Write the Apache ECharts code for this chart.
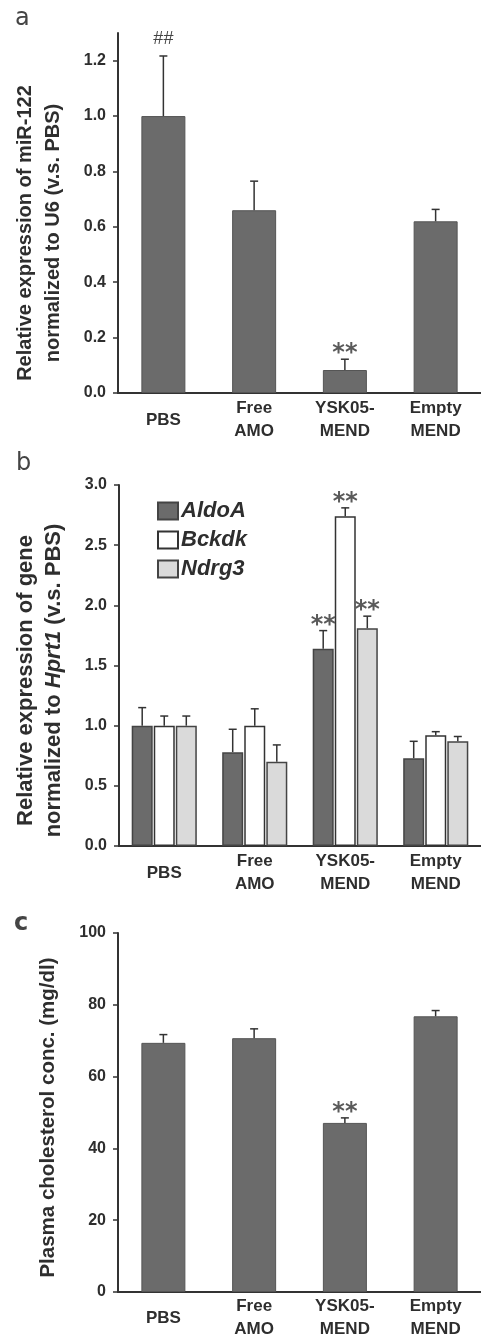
<!DOCTYPE html>
<html>
<head>
<meta charset="utf-8">
<script src="https://cdn.jsdelivr.net/npm/echarts@6/dist/echarts.min.js"></script>
<style>
  html, body { margin: 0; padding: 0; background: #fff; }
  #chart { width: 481px; height: 1341px; }
</style>
</head>
<body>
<div id="chart"></div>
<script>
// categories shared by all three panels
const groups = ["PBS", "Free\nAMO", "YSK05-\nMEND", "Empty\nMEND"];

// panel a: miR-122
const mirMean = [1.0, 0.66, 0.083, 0.62];
const mirSem = [0.217, 0.105, 0.039, 0.043];
const mirMark = ["##", "", "**", ""];
const ticksA = [0, 0.2, 0.4, 0.6, 0.8, 1.0, 1.2];

// panel b: gene expression
const genes = ["AldoA", "Bckdk", "Ndrg3"];
const aldoA = [1.0, 0.78, 1.64, 0.73];
const aldoASem = [0.15, 0.19, 0.15, 0.14];
const bckdk = [1.0, 1.0, 2.74, 0.92];
const bckdkSem = [0.08, 0.14, 0.07, 0.03];
const ndrg3 = [1.0, 0.70, 1.81, 0.87];
const ndrg3Sem = [0.08, 0.14, 0.10, 0.04];
const geneMark = ["", "", "**", ""];

// panel c: plasma cholesterol
const chol = [69.4, 70.7, 47.1, 76.8];
const cholSem = [2.3, 2.6, 1.4, 1.6];
const cholMark = ["", "", "**", ""];

const FONT = "Liberation Sans, Arial, sans-serif";
const TXT = "#2e2e2e";
const DARK = "#6b6b6b";

function errSeries(name, idx, mean, sem, marks, slot, count, barWidth) {
  return {
    name: name + "_err",
    type: "custom",
    xAxisIndex: idx,
    yAxisIndex: idx,
    z: 5,
    data: mean.map((m, i) => [i, m, sem[i]]),
    renderItem: function (params, api) {
      const lay = api.barLayout({ barWidth: barWidth, barGap: "5%", count: count })[slot];
      const base = api.coord([api.value(0), api.value(1)]);
      const top = api.coord([api.value(0), api.value(1) + api.value(2)]);
      const x = base[0] + lay.offsetCenter;
      const mark = marks[params.dataIndex];
      const kids = [
        { type: "line", shape: { x1: x, y1: base[1], x2: x, y2: top[1] },
          style: { stroke: "#333", lineWidth: 1.5 } },
        { type: "line", shape: { x1: x - 4, y1: top[1], x2: x + 4, y2: top[1] },
          style: { stroke: "#333", lineWidth: 1.5 } }
      ];
      if (mark) {
        const star = mark === "**";
        kids.push({
          type: "text",
          style: {
            text: mark, x: x, y: top[1] - (star ? 5 : 8),
            align: "center", verticalAlign: star ? "middle" : "bottom",
            font: star ? "bold 24px DejaVu Sans" : "18px " + FONT,
            fill: star ? "#5a5a5a" : "#444"
          }
        });
      }
      return { type: "group", children: kids };
    }
  };
}

function xAxisFor(idx, margin) {
  return {
    type: "category", gridIndex: idx, data: groups,
    axisLine: { lineStyle: { color: "#333", width: 2 } },
    axisTick: { show: false },
    axisLabel: { color: TXT, fontFamily: FONT, fontWeight: "bold", fontSize: 17,
      lineHeight: 23, margin: margin, verticalAlign: "middle", interval: 0 }
  };
}

function nameStyle(size, shift) {
  return {
    color: TXT, fontFamily: FONT, fontWeight: "bold", fontSize: size, lineHeight: 28,
    padding: [0, shift * 2, 0, 0],
    rich: { i: { color: TXT, fontFamily: FONT, fontWeight: "bold", fontStyle: "italic", fontSize: size, lineHeight: 28 } }
  };
}

function yAxisFor(idx, opts) {
  return Object.assign({
    type: "value", gridIndex: idx, min: 0,
    splitLine: { show: false },
    axisLine: { show: true, lineStyle: { color: "#333", width: 2 } },
    axisTick: { show: true, length: 5, lineStyle: { color: "#333", width: 1.5 } },
    nameLocation: "middle", nameRotate: 90,
    axisLabel: { color: TXT, fontFamily: FONT, fontWeight: "bold", fontSize: 16, margin: 12 }
  }, opts);
}

const chart = echarts.init(document.getElementById("chart"), null, { renderer: "canvas" });

const letterStyle = { fontFamily: "DejaVu Sans", fontWeight: "normal", fontSize: 24, color: "#444" };

const option = {
  backgroundColor: "#fff",
  animation: false,
  title: [
    { text: "a", left: 10, top: 2, textStyle: letterStyle },
    { text: "b", left: 11, top: 447, textStyle: letterStyle },
    { text: "c", left: 9, top: 907, textStyle: Object.assign({}, letterStyle, { fontWeight: "bold" }) }
  ],
  grid: [
    { left: 118, width: 368, top: 33, height: 360 },
    { left: 119, width: 372, top: 485, height: 361 },
    { left: 118, width: 363, top: 933, height: 363 }
  ],
  legend: {
    data: genes, orient: "vertical", left: 152, top: 495,
    icon: "rect", itemWidth: 20, itemHeight: 17, itemGap: 7, selectedMode: false,
    textStyle: { fontFamily: FONT, fontStyle: "italic", fontWeight: "bold", fontSize: 22, color: TXT, padding: [0, 0, 0, -2] }
  },
  xAxis: [xAxisFor(0, 27), xAxisFor(1, 27), xAxisFor(2, 26)],
  yAxis: [
    yAxisFor(0, {
      max: 1.3,
      name: "Relative expression of miR-122\nnormalized to U6 (v.s. PBS)", nameGap: 51,
      nameTextStyle: nameStyle(20, 20),
      axisTick: { show: true, length: 5, customValues: ticksA, lineStyle: { color: "#333", width: 1.5 } },
      axisLabel: { color: TXT, fontFamily: FONT, fontWeight: "bold", fontSize: 16, margin: 12,
        customValues: ticksA, formatter: v => v.toFixed(1) }
    }),
    yAxisFor(1, {
      max: 3, interval: 0.5,
      name: "Relative expression of gene\nnormalized to {i|Hprt1} (v.s. PBS)", nameGap: 51,
      nameTextStyle: nameStyle(22, 15),
      axisLabel: { color: TXT, fontFamily: FONT, fontWeight: "bold", fontSize: 16, margin: 12, formatter: v => v.toFixed(1) }
    }),
    yAxisFor(2, {
      max: 100, interval: 20,
      name: "Plasma cholesterol conc. (mg/dl)", nameGap: 56,
      nameTextStyle: nameStyle(20.5, 5)
    })
  ],
  series: [
    { name: "miR-122", type: "bar", xAxisIndex: 0, yAxisIndex: 0, data: mirMean, barWidth: 44,
      itemStyle: { color: DARK, borderColor: "#555", borderWidth: 1 } },
    errSeries("miR-122", 0, mirMean, mirSem, mirMark, 0, 1, 44),

    { name: "AldoA", type: "bar", xAxisIndex: 1, yAxisIndex: 1, data: aldoA, barWidth: 21, barGap: "5%",
      itemStyle: { color: DARK, borderColor: "#444", borderWidth: 1.5 } },
    { name: "Bckdk", type: "bar", xAxisIndex: 1, yAxisIndex: 1, data: bckdk, barWidth: 21, barGap: "5%",
      itemStyle: { color: "#ffffff", borderColor: "#333", borderWidth: 1.5 } },
    { name: "Ndrg3", type: "bar", xAxisIndex: 1, yAxisIndex: 1, data: ndrg3, barWidth: 21, barGap: "5%",
      itemStyle: { color: "#dadada", borderColor: "#444", borderWidth: 1.5 } },
    errSeries("AldoA", 1, aldoA, aldoASem, geneMark, 0, 3, 21),
    errSeries("Bckdk", 1, bckdk, bckdkSem, geneMark, 1, 3, 21),
    errSeries("Ndrg3", 1, ndrg3, ndrg3Sem, geneMark, 2, 3, 21),

    { name: "Cholesterol", type: "bar", xAxisIndex: 2, yAxisIndex: 2, data: chol, barWidth: 44,
      itemStyle: { color: DARK, borderColor: "#555", borderWidth: 1 } },
    errSeries("Cholesterol", 2, chol, cholSem, cholMark, 0, 1, 44)
  ]
};

chart.setOption(option);
</script>
</body>
</html>
